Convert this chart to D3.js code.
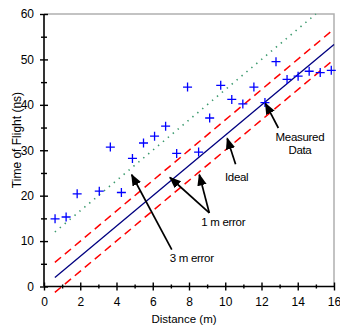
<!DOCTYPE html>
<html>
<head>
<meta charset="utf-8">
<script src="https://cdn.jsdelivr.net/npm/d3@7"></script>
<style>
  body { margin: 0; background: #fff; }
  text { font-family: Arial, "Liberation Sans", sans-serif; fill: #000; }
</style>
</head>
<body>
<svg id="chart" width="340" height="326"></svg>
<script>
const W = 340, H = 326;
const margin = {top: 14, right: 6, bottom: 39.5, left: 44};

// measured points (distance in m, time of flight in ns)
const distance = [0.61, 1.22, 1.83, 3.05, 3.66, 4.27, 4.88, 5.49, 6.10, 6.71, 7.32, 7.92, 8.53,
                  9.14, 9.75, 10.36, 10.97, 11.58, 12.19, 12.80, 13.41, 14.02, 14.63, 15.24, 15.85];
const measured = [14.9, 15.3, 20.4, 21.0, 30.7, 20.7, 28.2, 31.6, 33.1, 35.3, 29.3, 43.9, 29.6,
                  37.1, 44.3, 41.2, 40.2, 43.9, 40.5, 49.5, 45.6, 46.3, 47.4, 47.1, 47.6];

// reference lines (end points)
const lineX = [0.6, 16];
const ideal = [2.0, 53.3];
const err1Up = [5.3, 56.7];
const err1Down = [-1.3, 50.0];
const err3X = [0.6, 15];
const err3Up = [12.0, 60.0];

const xTicks = [0, 2, 4, 6, 8, 10, 12, 14, 16];
const yTicks = [0, 10, 20, 30, 40, 50, 60];

// annotations: text positions and arrows [from, to] in data units
const labels = [
  {text: "Measured", x: 14.12, y: 33.0},
  {text: "Data", x: 14.12, y: 30.1},
  {text: "Ideal", x: 10.63, y: 24.2},
  {text: "1 m error", x: 9.89, y: 14.3},
  {text: "3 m error", x: 8.15, y: 6.2}
];
const arrows = [
  [[12.93, 34.9], [12.22, 40.3]],
  [[10.57, 26.9], [10.11, 32.6]],
  [[9.12, 16.2], [6.95, 24.0]],
  [[9.12, 16.2], [8.57, 24.6]],
  [[7.05, 8.1], [4.84, 24.6]]
];

const svg = d3.select("#chart");
const iw = W - margin.left - margin.right, ih = H - margin.top - margin.bottom;
const x = d3.scaleLinear().domain([0, 16]).range([margin.left, margin.left + iw]);
const y = d3.scaleLinear().domain([0, 60]).range([margin.top + ih, margin.top]);

// top / right frame
svg.append("path")
  .attr("d", `M${x(0)},${y(60)}H${x(16)}V${y(0)}`)
  .attr("fill", "none").attr("stroke", "#b0b0b0").attr("stroke-width", 1.5);

// reference lines
const line = d3.line().x(d => x(d[0])).y(d => y(d[1]));
svg.append("path").datum(d3.zip(err3X, err3Up)).attr("d", line)
  .attr("fill", "none").attr("stroke", "#3c9a6e").attr("stroke-width", 1.6)
  .attr("stroke-dasharray", "1.4,5").attr("stroke-linecap", "butt");
svg.append("path").datum(d3.zip(lineX, err1Up)).attr("d", line)
  .attr("fill", "none").attr("stroke", "#ff0000").attr("stroke-width", 1.5)
  .attr("stroke-dasharray", "8,5");
svg.append("path").datum(d3.zip(lineX, err1Down)).attr("d", line)
  .attr("fill", "none").attr("stroke", "#ff0000").attr("stroke-width", 1.5)
  .attr("stroke-dasharray", "8,5");
svg.append("path").datum(d3.zip(lineX, ideal)).attr("d", line)
  .attr("fill", "none").attr("stroke", "#000080").attr("stroke-width", 1.3);

// measured crosses
const s = 4.5;
svg.append("g").selectAll("path")
  .data(d3.zip(distance, measured))
  .enter().append("path")
  .attr("d", d => `M${x(d[0]) - s},${y(d[1])}h${2 * s}M${x(d[0])},${y(d[1]) - s}v${2 * s}`)
  .attr("stroke", "#0000ff").attr("stroke-width", 1.3).attr("fill", "none");

// axes
const xAxis = svg.append("g").attr("transform", `translate(0,${y(0)})`)
  .call(d3.axisBottom(x).tickValues(xTicks).tickSize(4).tickPadding(7));
const xMinor = svg.append("g").attr("transform", `translate(0,${y(0)})`)
  .call(d3.axisBottom(x).tickValues(d3.range(1, 16, 2)).tickSize(2).tickFormat(""));
const yAxis = svg.append("g").attr("transform", `translate(${x(0)},0)`)
  .call(d3.axisLeft(y).tickValues(yTicks).tickSize(4).tickPadding(6));
const yMinor = svg.append("g").attr("transform", `translate(${x(0)},0)`)
  .call(d3.axisLeft(y).tickValues(d3.range(5, 60, 10)).tickSize(3).tickFormat(""));

xAxis.selectAll(".tick line").attr("y1", -4).attr("y2", 4);
xMinor.selectAll(".tick line").attr("y1", -2).attr("y2", 2);
yAxis.selectAll(".tick line").attr("x1", 4).attr("x2", -4);
yMinor.selectAll(".tick line").attr("x1", 3).attr("x2", -3);
xMinor.select(".domain").remove();
yMinor.select(".domain").remove();
[xAxis, yAxis, xMinor, yMinor].forEach(g => {
  g.selectAll(".tick line").attr("stroke", "#000").attr("stroke-width", 1.4);
  g.selectAll(".domain").attr("stroke", "#000").attr("stroke-width", 1.6);
  g.selectAll("text").attr("font-size", 12).attr("font-family", "Arial, 'Liberation Sans', sans-serif");
});
xAxis.select(".domain").attr("d", `M${x(0)},0H${x(16)}`);
yAxis.select(".domain").attr("d", `M0,${y(0)}V${y(60)}`);

// axis titles
svg.append("text").attr("x", 184).attr("y", 323).attr("text-anchor", "middle")
  .attr("font-size", 11.5).text("Distance (m)");
svg.append("text").attr("transform", "translate(20.5,140) rotate(-90)")
  .attr("text-anchor", "middle").attr("font-size", 12).text("Time of Flight (ns)");

// arrows
svg.append("defs").append("marker")
  .attr("id", "head").attr("viewBox", "0 0 10 10")
  .attr("refX", 9).attr("refY", 5)
  .attr("markerWidth", 7).attr("markerHeight", 7)
  .attr("markerUnits", "strokeWidth")
  .attr("orient", "auto")
  .append("path").attr("d", "M0,1L10,5L0,9z").attr("fill", "#000");

svg.append("g").selectAll("line")
  .data(arrows).enter().append("line")
  .attr("x1", d => x(d[0][0])).attr("y1", d => y(d[0][1]))
  .attr("x2", d => x(d[1][0])).attr("y2", d => y(d[1][1]))
  .attr("stroke", "#000").attr("stroke-width", 1.7)
  .attr("marker-end", "url(#head)");

svg.append("g").selectAll("text")
  .data(labels).enter().append("text")
  .attr("x", d => x(d.x)).attr("y", d => y(d.y))
  .attr("dy", "0.35em").attr("text-anchor", "middle")
  .attr("font-size", 11.5).attr("letter-spacing", -0.3)
  .text(d => d.text);
</script>
</body>
</html>
